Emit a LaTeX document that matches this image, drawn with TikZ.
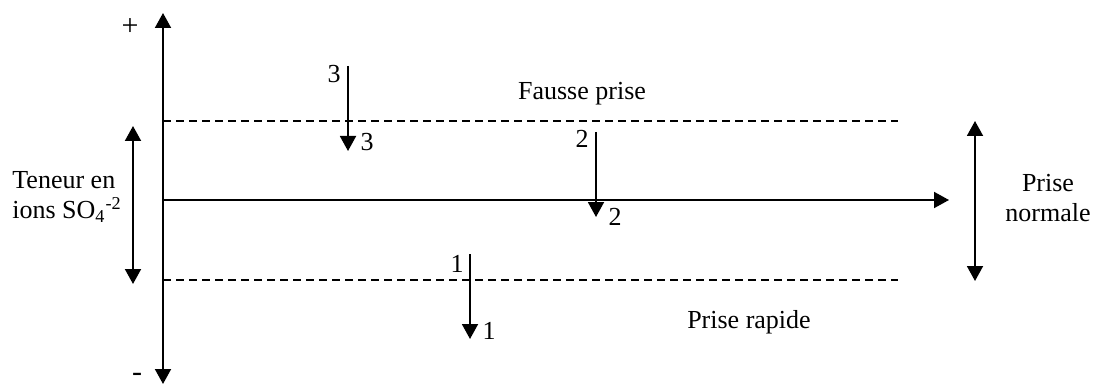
\documentclass[tikz,border=0pt]{standalone}
\usepackage{fontspec}
\setmainfont{Liberation Serif}
\usetikzlibrary{arrows.meta, positioning}
\tikzset{
  axisline/.style  = {-{Triangle[width=8pt, length=7.5pt]}, line width=0.95pt, black},
  rangeline/.style = {{Triangle[width=8pt, length=7.5pt]}-{Triangle[width=8pt, length=7.5pt]},
                      line width=0.95pt, black},
  limitline/.style = {dash pattern=on 4pt off 2.5pt, line width=0.65pt, black},
  lbl/.style       = {font=\fontsize{13}{15}\selectfont, inner sep=0pt},
}
\begin{document}
\begin{tikzpicture}[x=0.5pt, y=-0.5pt]
\useasboundingbox (0,0) rectangle (1098,385);

% ---- axes ---------------------------------------------------------------
\coordinate (ymid) at (163,200);
\coordinate (ytop) at (163,13);
\coordinate (ybot) at (163,384);
\coordinate (xend) at (949,200);
\draw[axisline] (ymid) -- (ytop);
\draw[axisline] (ymid) -- (ybot);
\draw[axisline] (ymid) -- (xend);
\node[lbl, font=\fontsize{15}{15}\selectfont] (plus) at (130,27) {+};
\node[lbl, font=\fontsize{15}{15}\selectfont] (minus) at (137,377) {-};

% ---- limits of a normal set ---------------------------------------------
\coordinate (hiL) at (163,121);
\coordinate (hiR) at (898,121);
\coordinate (loL) at (163,280);
\coordinate (loR) at (898,280);
\draw[limitline] (hiL) -- (hiR);
\draw[limitline] (loL) -- (loR);
\node[lbl, anchor=base] (fausse) at (582,100) {Fausse prise};
\node[lbl, anchor=base] (rapide) at (749,328) {Prise rapide};

% ---- ranges on both sides -----------------------------------------------
\coordinate (tenTop) at (133,126);
\coordinate (tenBot) at (133,284);
\draw[rangeline] (tenTop) -- (tenBot);
\node[lbl, align=left, anchor=west] (teneur) at (12,197)
  {Teneur en\\ions SO\textsubscript{4}\textsuperscript{-2}};
\coordinate (norTop) at (975,121);
\coordinate (norBot) at (975,281);
\draw[rangeline] (norTop) -- (norBot);
\node[lbl, align=center] (normale) at (1048,198) {Prise\\normale};

% ---- shifts 1, 2, 3 -------------------------------------------------------
\coordinate (s3a) at (348,66);
\coordinate (s3b) at (348,151);
\coordinate (s2a) at (596,132);
\coordinate (s2b) at (596,217);
\coordinate (s1a) at (470,254);
\coordinate (s1b) at (470,339);
\draw[axisline] (s3a) -- (s3b);
\draw[axisline] (s2a) -- (s2b);
\draw[axisline] (s1a) -- (s1b);
\node[lbl, anchor=base] (n3a) at (334,83) {3};
\node[lbl, anchor=base] (n3b) at (367,151) {3};
\node[lbl, anchor=base] (n2a) at (582,148) {2};
\node[lbl, anchor=base] (n2b) at (615,225) {2};
\node[lbl, anchor=base] (n1a) at (457,272) {1};
\node[lbl, anchor=base] (n1b) at (489,339) {1};

\end{tikzpicture}
\end{document}
